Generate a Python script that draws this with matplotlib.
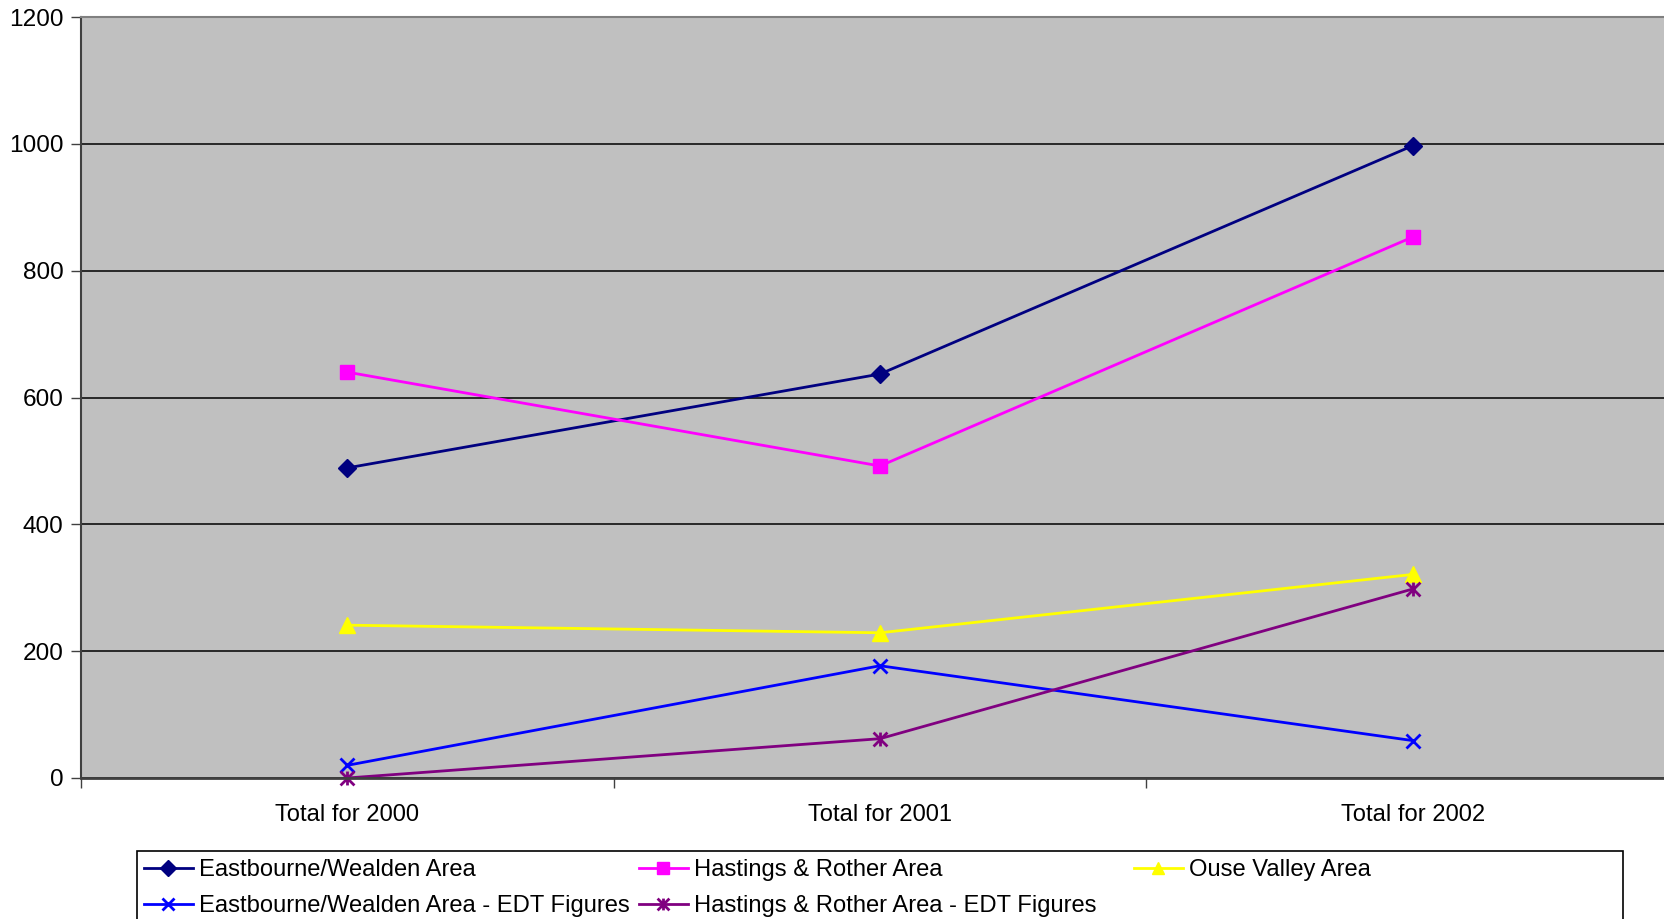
import numpy as np
import matplotlib
matplotlib.use("Agg")
import matplotlib.pyplot as plt
from matplotlib.path import Path
from matplotlib.patches import Rectangle

plt.rcParams['font.family'] = ['Liberation Sans', 'DejaVu Sans']

categories = ["Total for 2000", "Total for 2001", "Total for 2002"]
eastbourne = [489, 637, 997]
hastings = [640, 492, 853]
ouse = [241, 229, 321]
eastbourne_edt = [20, 177, 59]
hastings_edt = [0, 62, 298]

W, H = 1664, 919
fs = 17.1

# excel style star: an x with a vertical bar through it
star = Path([(-1, -1), (1, 1), (-1, 1), (1, -1), (0, -1), (0, 1)],
            [Path.MOVETO, Path.LINETO, Path.MOVETO, Path.LINETO, Path.MOVETO, Path.LINETO])

fig = plt.figure(figsize=(W/100, H/100), dpi=100)
ax = fig.add_axes([81/W, 1 - 778/H, (1679 - 81)/W, (778 - 17)/H])
ax.set_facecolor('#C0C0C0')

x = np.arange(len(categories))
lw = 2.0
h1, = ax.plot(x, eastbourne, color='#000080', lw=lw, marker='D', ms=9, label='Eastbourne/Wealden Area')
h2, = ax.plot(x, hastings, color='#FF00FF', lw=lw, marker='s', ms=10, label='Hastings & Rother Area')
h3, = ax.plot(x, ouse, color='#FFFF00', lw=lw, marker='^', ms=11, label='Ouse Valley Area')
h4, = ax.plot(x, eastbourne_edt, color='#0000FF', lw=lw, marker='x', ms=10, mew=2,
              label='Eastbourne/Wealden Area - EDT Figures')
h5, = ax.plot(x, hastings_edt, color='#800080', lw=lw, marker=star, ms=10, mew=2,
              label='Hastings & Rother Area - EDT Figures', clip_on=False)

ax.set_xlim(-0.5, 2.5)
ax.set_ylim(0, 1200)
ax.set_yticks(np.arange(0, 1201, 200))
ax.yaxis.grid(True, color='black', lw=1.1)
ax.set_axisbelow(True)

ax.set_xticks([-0.5, 0.5, 1.5, 2.5])
ax.set_xticklabels([])
ax.set_xticks(x, minor=True)
ax.set_xticklabels(categories, minor=True)
ax.tick_params(axis='x', which='minor', length=0, pad=18.5, labelsize=fs)
ax.tick_params(axis='x', which='major', length=7, width=1, color='#404040')
ax.tick_params(axis='y', length=7, width=1, color='#404040', pad=5.5, labelsize=17.6)

ax.spines['top'].set_color('#808080')
ax.spines['top'].set_linewidth(1.5)
ax.spines['right'].set_visible(False)
ax.spines['left'].set_color('#404040')
ax.spines['left'].set_linewidth(1.5)
ax.spines['bottom'].set_color('#404040')
ax.spines['bottom'].set_linewidth(2)

# legend box runs off the bottom of the image, columns evenly spaced like excel
box = Rectangle((137/W, -0.05), (1623 - 137)/W, (1 - 851/H) + 0.05, transform=fig.transFigure,
                facecolor='white', edgecolor='black', lw=1.2, zorder=1)
fig.add_artist(box)

cols = [([h1, h4], 144), ([h2, h5], 639), ([h3], 1134)]
for hs, x0 in cols:
    leg = fig.legend(handles=hs, labels=[h.get_label() for h in hs],
                     loc='upper left', bbox_to_anchor=(x0/W, 1 - 859/H),
                     fontsize=fs, frameon=False, handlelength=2.05, handletextpad=0.25,
                     borderaxespad=0, borderpad=0, labelspacing=0.6, markerscale=0.85)
    leg.set_zorder(5)

fig.savefig('out.png', dpi=100)
